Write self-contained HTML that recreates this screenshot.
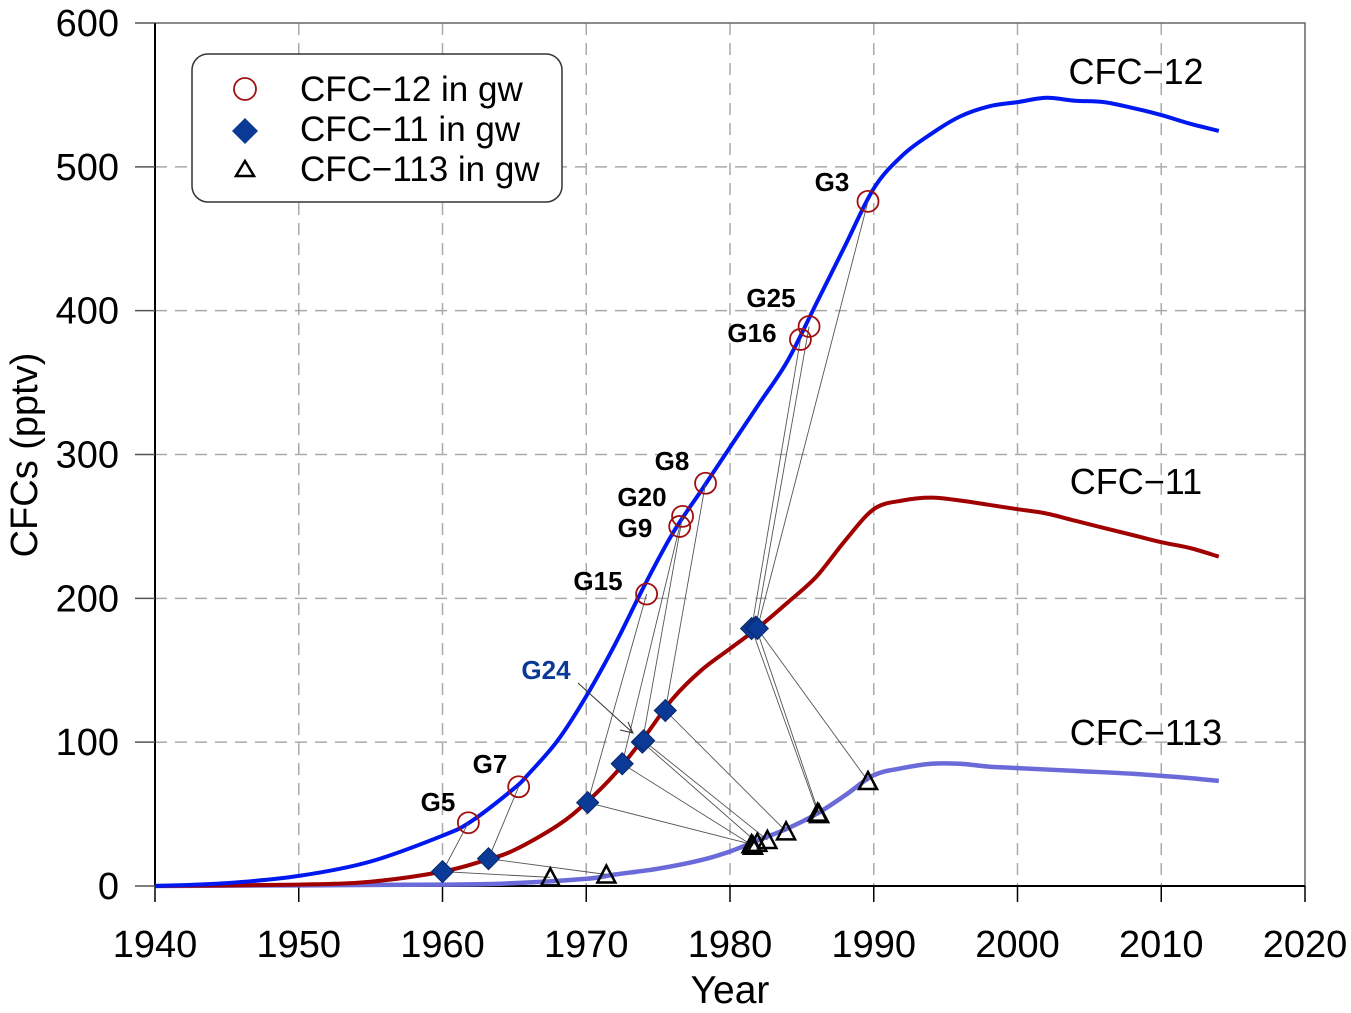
<!DOCTYPE html>
<html><head><meta charset="utf-8"><style>
body{margin:0;background:#fff}
svg{display:block;font-family:"Liberation Sans",Arial,sans-serif}
</style></head><body>
<svg id="c" width="1351" height="1013" viewBox="0 0 1351 1013"></svg>
<script>
const years12=[1940,1945,1950,1955,1960,1962,1965,1966,1968,1970,1972,1974,1976,1978,1980,1982,1984,1986,1988,1990,1992,1994,1996,1998,2000,2002,2004,2006,2008,2010,2012,2014];
const cfc12=[0,2,7,17,35,45,68,78,101,132,168,208,245,275,305,335,365,405,445,485,508,523,535,542,545,548,546,545,541,536,530,525];
const years11=[1940,1950,1955,1960,1963,1965,1968,1970,1972,1974,1976,1978,1980,1982,1984,1986,1988,1990,1992,1994,1996,1998,2000,2002,2004,2006,2008,2010,2012,2014];
const cfc11=[0,1,3,10,18,25,42,58,78,103,130,150,165,180,197,215,240,262,268,270,268,265,262,259,254,249,244,239,235,229];
const years113=[1940,1960,1965,1970,1972,1975,1978,1980,1982,1984,1986,1988,1990,1992,1994,1996,1998,2000,2004,2008,2012,2014];
const cfc113=[0,1,2,5,8,12,18,24,32,40,50,63,77,82,85,85,83,82,80,78,75,73];
const sampleNames=["G5","G7","G15","G9","G20","G24","G8","G16","G25","G3"];
const s12=[[1961.8,44],[1965.3,69],[1974.2,203],[1976.5,250],[1976.7,257],null,[1978.3,280],[1984.9,380],[1985.5,389],[1989.6,476]];
const s11=[[1960.0,10],[1963.2,19],[1970.1,58],[1972.5,85],[1973.9,100],[1974.0,101],[1975.5,122],[1981.5,179],[1981.8,180],[1981.9,179]];
const s113=[[1967.5,6],[1971.4,8],[1981.5,29],[1981.6,28],[1981.9,30],[1982.6,32],[1983.9,38],[1986.1,51],[1986.2,50],[1989.6,73]];
const xTicks=[1940,1950,1960,1970,1980,1990,2000,2010,2020];
const yTicks=[0,100,200,300,400,500,600];

const NS="http://www.w3.org/2000/svg",svg=document.getElementById('c');
const X0=155,X1=1305,Y0=886,Y1=23;
const xs=v=>X0+(v-1940)/80*(X1-X0), ys=v=>Y0-(v/600)*(Y0-Y1);
function mk(t,a,p){const e=document.createElementNS(NS,t);for(const k in a)e.setAttribute(k,a[k]);(p||svg).appendChild(e);return e;}
for(const t of xTicks){if(t>1940&&t<2020){const e=mk('line',{x1:xs(t),x2:xs(t),y1:Y1,y2:Y0,stroke:'#aaa','stroke-width':1.5,'stroke-dasharray':'12,8'});

}}
for(const t of yTicks){if(t>0&&t<600){const e=mk('line',{x1:X0,x2:X1,y1:ys(t),y2:ys(t),stroke:'#aaa','stroke-width':1.5,'stroke-dasharray':'12,8'});

}}
const fr=mk('rect',{x:X0,y:Y1,width:X1-X0,height:Y0-Y1,fill:'none',stroke:'#666','stroke-width':1.5});


mk('line',{x1:X0,x2:X0,y1:Y1,y2:Y0,stroke:'#000','stroke-width':2});
mk('line',{x1:X0,x2:X1,y1:Y0,y2:Y0,stroke:'#000','stroke-width':2});
for(const t of xTicks){mk('line',{x1:xs(t),x2:xs(t),y1:Y0,y2:Y0+16,stroke:'#000','stroke-width':1.5});
const e=mk('text',{x:xs(t),y:Y0+71,'font-size':38,'text-anchor':'middle'});e.textContent=t;

}
for(const t of yTicks){mk('line',{x1:X0-20,x2:X0,y1:ys(t),y2:ys(t),stroke:'#555','stroke-width':1.5});
const e=mk('text',{x:X0-36,y:ys(t)+13,'font-size':38,'text-anchor':'end'});e.textContent=t;

}
let e=mk('text',{x:730,y:1003,'font-size':39,'text-anchor':'middle'});e.textContent='Year';


e=mk('text',{x:37,y:455,'font-size':38,'text-anchor':'middle',transform:'rotate(-90 37 455)'});e.textContent='CFCs (pptv)';


function curve(yr,v,col,w,name){const P=yr.map((y,i)=>[xs(y),ys(v[i])]);
let d='M'+P[0][0].toFixed(1)+','+P[0][1].toFixed(1);
for(let i=0;i<P.length-1;i++){const p0=P[Math.max(0,i-1)],p1=P[i],p2=P[i+1],p3=P[Math.min(P.length-1,i+2)];
const c1=[p1[0]+(p2[0]-p0[0])/6,p1[1]+(p2[1]-p0[1])/6],c2=[p2[0]-(p3[0]-p1[0])/6,p2[1]-(p3[1]-p1[1])/6];
d+=`C${c1[0].toFixed(1)},${c1[1].toFixed(1)} ${c2[0].toFixed(1)},${c2[1].toFixed(1)} ${p2[0].toFixed(1)},${p2[1].toFixed(1)}`;}
const p=mk('path',{d,fill:'none',stroke:col,'stroke-width':w,'stroke-linejoin':'round'});

}
curve(years113,cfc113,'#6a6ad8',4.5,'cfc113-line');
curve(years11,cfc11,'#a00000',4,'cfc11-line');
curve(years12,cfc12,'#0018f0',4,'cfc12-line');
for(let i=0;i<sampleNames.length;i++){const pts=[s12[i],s11[i],s113[i]].filter(Boolean);
const d=pts.map((p,j)=>(j?'L':'M')+xs(p[0])+','+ys(p[1])).join('');
const c=mk('path',{d,fill:'none',stroke:'#555','stroke-width':0.9});

}
for(let i=0;i<sampleNames.length;i++){
 if(s113[i]){const x=xs(s113[i][0]),y=ys(s113[i][1]);const m=mk('polygon',{points:`${x},${y-9} ${x-9},${y+8} ${x+9},${y+8}`,fill:'none',stroke:'#000','stroke-width':2.5});
 
 }
 if(s11[i]){const x=xs(s11[i][0]),y=ys(s11[i][1]);const m=mk('polygon',{points:`${x},${y-11} ${x+11},${y} ${x},${y+11} ${x-11},${y}`,fill:'#0a3a96',stroke:'#08286a','stroke-width':1});
 
 }
 if(s12[i]){const m=mk('circle',{cx:xs(s12[i][0]),cy:ys(s12[i][1]),r:10.5,fill:'none',stroke:'#a01010','stroke-width':1.8});
 
 }
}
const labs=[["G5",438,811],["G7",490,773],["G15",598,590],["G9",635,537],["G20",642,506],["G8",672,470],["G16",752,342],["G25",771,307],["G3",832,191]];
for(const l of labs){const t=mk('text',{x:l[1],y:l[2],'font-size':26,'font-weight':'bold','text-anchor':'middle'});t.textContent=l[0];

}
e=mk('text',{x:546,y:679,'font-size':26,'font-weight':'bold','text-anchor':'middle',fill:'#0a3a96'});e.textContent='G24';


mk('path',{d:'M578,683 L633,733 M620,730 L633,733 L628,722',fill:'none',stroke:'#333','stroke-width':1});
for(const l of [["CFC−12",1136,84],["CFC−11",1136,494],["CFC−113",1146,745]]){const t=mk('text',{x:l[1],y:l[2],'font-size':36,'text-anchor':'middle'});t.textContent=l[0];

}
const g=mk('g',{});
mk('rect',{x:192,y:54,width:370,height:148,rx:16,fill:'#fff',stroke:'#333','stroke-width':1.5},g);
mk('circle',{cx:245,cy:89,r:11,fill:'none',stroke:'#a01010','stroke-width':1.8},g);
mk('polygon',{points:'245,118 258,131 245,144 232,131',fill:'#0a3a96'},g);
mk('polygon',{points:'245,161 236,176 254,176',fill:'none',stroke:'#000','stroke-width':2.5},g);
[["CFC−12 in gw",101],["CFC−11 in gw",141],["CFC−113 in gw",181]].forEach(r=>{const t=mk('text',{x:300,y:r[1],'font-size':35},g);t.textContent=r[0];

});
</script>
</body></html>
